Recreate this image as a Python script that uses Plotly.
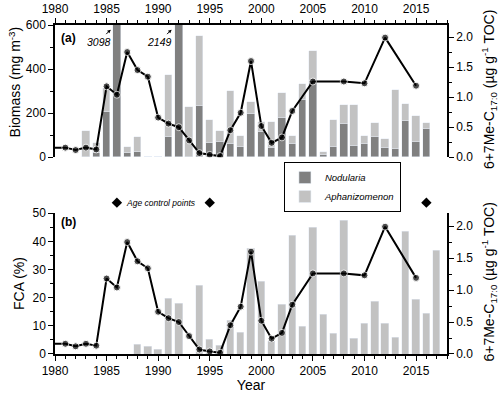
import plotly.graph_objects as go

# ── Data ─────────────────────────────────────────────────────────────────────
bio_years = list(range(1983, 2017))
nodularia = [0, 21, 206, 3098, 21, 22, 0, 0, 90, 2149, 0, 232, 63, 71, 59, 45, 196,
             116, 43, 180, 60, 259, 345, 9, 47, 151, 51, 60, 91, 41, 38, 165, 68, 126]
aphanizomenon = [120, 45, 106, 0, 26, 71, 0, 0, 282, 0, 226, 320, 105, 48, 241, 51, 56,
                 45, 119, 110, 36, 73, 137, 13, 122, 86, 186, 36, 66, 40, 269, 75, 121, 31]

fca_years = list(range(1988, 2018))
fca = [3.4, 2.8, 1.7, 19.8, 18.0, 0, 24.5, 5.2, 3.1, 12.0, 7.8, 37.6, 25.7, 4.6, 17.7,
       42.1, 9.7, 44.9, 14.1, 7.3, 47.4, 5.6, 11.0, 18.6, 11.0, 5.9, 43.7, 19.3, 14.5, 36.7]

me_years = list(range(1980, 2004)) + [2005, 2008, 2010, 2012, 2015]
me_c17 = [0.16, 0.16, 0.12, 0.16, 0.13, 1.18, 1.04, 1.75, 1.45, 1.34, 0.66, 0.56, 0.50,
          0.28, 0.07, 0.04, 0.02, 0.45, 0.74, 1.60, 0.52, 0.24, 0.33, 0.77,
          1.26, 1.26, 1.23, 1.99, 1.19]

age_years = [1986, 1995, 2016]
age_row = [0.5, 0.5, 0.5]

# ── Style ────────────────────────────────────────────────────────────────────
_FONT = "Liberation Sans, Arial, sans-serif"
_DARK = "#808080"
_LIGHT = "#c2c2c2"
_BLACK = "black"
_ME_TITLE = "6+7Me-C<sub>17:0</sub> (µg g<sup>-1</sup> TOC)"

fig = go.Figure()

fig.add_trace(go.Bar(x=bio_years, y=nodularia, name="<i>Nodularia</i>",
                     marker_color=_DARK, width=0.72, xaxis="x", yaxis="y"))
fig.add_trace(go.Bar(x=bio_years, y=aphanizomenon, name="<i>Aphanizomenon</i>",
                     marker_color=_LIGHT, width=0.72, xaxis="x", yaxis="y"))

marker_sizes = [0] + [7] * (len(me_years) - 1)
fig.add_trace(go.Scatter(x=me_years, y=me_c17, mode="lines+markers",
                         line=dict(color=_BLACK, width=2),
                         marker=dict(color=_BLACK, size=marker_sizes),
                         showlegend=False, xaxis="x", yaxis="y2"))

fig.add_trace(go.Bar(x=fca_years, y=fca, marker_color=_LIGHT, width=0.72,
                     showlegend=False, xaxis="x2", yaxis="y3"))
fig.add_trace(go.Scatter(x=me_years, y=me_c17, mode="lines+markers",
                         line=dict(color=_BLACK, width=2),
                         marker=dict(color=_BLACK, size=marker_sizes),
                         showlegend=False, xaxis="x2", yaxis="y4"))

# age control points sit in the gap between the panels (own hidden y axis)
fig.add_trace(go.Scatter(x=age_years, y=age_row, mode="markers",
                         marker=dict(symbol="diamond", size=8, color=_BLACK),
                         showlegend=False, xaxis="x2", yaxis="y5"))

# ── Axes ─────────────────────────────────────────────────────────────────────
_ax = dict(showline=True, linecolor=_BLACK, linewidth=1.5, ticks="outside",
           ticklen=5, tickwidth=1, tickcolor=_BLACK, showgrid=False, zeroline=False,
           automargin=False, tickfont=dict(size=12, color=_BLACK))
_minor_x = dict(dtick=1, ticklen=3, ticks="outside", tickcolor=_BLACK)

top_dom = [0.598, 1.0]
bot_dom = [0.0, 0.4277]

fig.update_layout(
    xaxis=dict(**_ax, domain=[0, 1], range=[1980, 2018], side="top", anchor="y",
               tick0=1980, dtick=5, minor=_minor_x),
    yaxis=dict(**_ax, domain=top_dom, range=[0, 600], dtick=200, anchor="x",
               minor=dict(dtick=100, ticklen=3, ticks="outside", tickcolor=_BLACK)),
    yaxis2=dict(**_ax, range=[0, 2.2], tick0=0, dtick=0.5, tickformat=".1f",
                overlaying="y", side="right", anchor="x",
                minor=dict(dtick=0.25, ticklen=3, ticks="outside", tickcolor=_BLACK)),
    xaxis2=dict(**_ax, domain=[0, 1], range=[1980, 2018], anchor="y3",
                tick0=1980, dtick=5, minor=_minor_x,
                title=dict(text="Year", font=dict(size=14), standoff=4)),
    yaxis3=dict(**_ax, domain=bot_dom, range=[0, 50], dtick=10, anchor="x2",
                minor=dict(dtick=5, ticklen=3, ticks="outside", tickcolor=_BLACK)),
    yaxis4=dict(**_ax, range=[0, 2.2], tick0=0, dtick=0.5, tickformat=".1f",
                overlaying="y3", side="right", anchor="x2",
                minor=dict(dtick=0.25, ticklen=3, ticks="outside", tickcolor=_BLACK)),
    yaxis5=dict(domain=[0.43, 0.49], range=[0, 1], anchor="x2", visible=False,
                fixedrange=True),
)

# ── Annotations ──────────────────────────────────────────────────────────────
_title = dict(xref="paper", yref="paper", showarrow=False, textangle=-90,
              xanchor="center", yanchor="middle", font=dict(size=14, color=_BLACK))
fig.add_annotation(x=-0.1033, y=0.827, text="Biomass (mg m<sup>-3</sup>)", **_title)
fig.add_annotation(x=-0.0918, y=0.213, text="FCA (%)", **_title)
fig.add_annotation(x=1.107, y=0.805, text=_ME_TITLE, **_title)
fig.add_annotation(x=1.107, y=0.220, text=_ME_TITLE, **_title)

_arrow = dict(showarrow=True, arrowhead=2, arrowsize=0.7, arrowwidth=1,
              arrowcolor=_BLACK, font=dict(size=10.5, color=_BLACK),
              xref="x", yref="y")
fig.add_annotation(x=1985.4, y=579, ax=-12, ay=12, text="<i>3098</i>", **_arrow)
fig.add_annotation(x=1991.3, y=579, ax=-12, ay=12, text="<i>2149</i>", **_arrow)

fig.add_annotation(x=0.01, y=0.962, xref="paper", yref="paper", text="<b>(a)</b>",
                   showarrow=False, xanchor="left", yanchor="middle",
                   font=dict(size=12, color=_BLACK))
fig.add_annotation(x=0.01, y=0.40, xref="paper", yref="paper", text="<b>(b)</b>",
                   showarrow=False, xanchor="left", yanchor="middle",
                   font=dict(size=12, color=_BLACK))
fig.add_annotation(x=1986.7, y=0.5, xref="x2", yref="y5", text="<i>Age control points</i>",
                   showarrow=False, xanchor="left", yanchor="middle",
                   font=dict(size=8.5, color=_BLACK))

# ── Global Layout ────────────────────────────────────────────────────────────
fig.update_layout(
    width=500, height=393,
    barmode="stack", bargap=0,
    paper_bgcolor="white", plot_bgcolor="white",
    font=dict(family=_FONT, color=_BLACK, size=12),
    margin=dict(l=55, r=53, t=25, b=39, autoexpand=False),
    legend=dict(x=0.584, y=0.5836, xanchor="left", yanchor="top",
                bordercolor=_BLACK, borderwidth=1, bgcolor="white",
                font=dict(size=9.5), tracegroupgap=0, traceorder="normal"),
)

fig.write_html("out.html", config={"displayModeBar": False},
               post_script="document.body.style.margin = '0';")
